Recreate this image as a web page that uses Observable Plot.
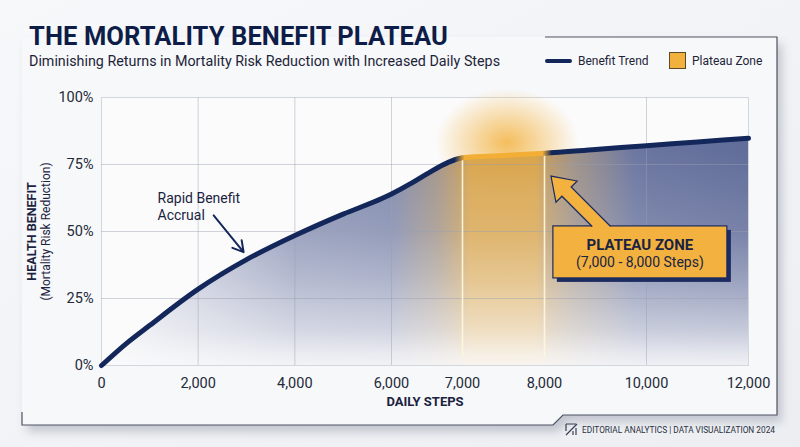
<!DOCTYPE html>
<html><head><meta charset="utf-8">
<script src="https://cdn.jsdelivr.net/npm/d3@7"></script>
<script src="https://cdn.jsdelivr.net/npm/@observablehq/plot@0.6"></script>
<style>
html,body{margin:0;padding:0;}
body{width:800px;height:447px;overflow:hidden;background:#f1f2f5;font-family:Roboto,"Noto Sans",sans-serif;}
#wrap{position:relative;width:800px;height:447px;}
#bg{position:absolute;left:0;top:0;}
#header{position:absolute;left:0;top:0;width:800px;height:80px;}
#title{position:absolute;left:29px;top:24px;font-size:25.5px;line-height:25px;font-weight:700;color:#0e1c48;white-space:nowrap;letter-spacing:0.1px;}
#subtitle{position:absolute;left:29px;top:54px;font-size:14.3px;line-height:14px;color:#1d2438;white-space:nowrap;}
.leg{position:absolute;font-size:12px;line-height:12px;color:#1d2438;white-space:nowrap;}
#chart{position:absolute;left:0;top:80px;}
#footer{position:absolute;left:0;top:0;pointer-events:none;}
</style>
</head><body>
<div id="wrap">
<svg id="bg" width="800" height="447">
  <defs>
    <linearGradient id="pageG" x1="0" y1="0" x2="1" y2="1">
      <stop offset="0" stop-color="#f7f8fa"/><stop offset="1" stop-color="#eceef2"/>
    </linearGradient>
    <filter id="sh" x="-10%" y="-10%" width="125%" height="130%"><feGaussianBlur stdDeviation="5"/></filter>
  </defs>
  <rect width="800" height="447" fill="url(#pageG)"/>
  <path d="M22,37H777V415H563L553,425H22Z" transform="translate(5,7)" fill="#8d93a2" opacity="0.45" filter="url(#sh)"/>
  <path d="M22,37H777V415H563L553,425H22Z" fill="#f7f8fa"/>
  <path d="M545,37H777V415H563L553,425H22V412" fill="none" stroke="#4c5262" stroke-width="1.2"/>
</svg>
<div id="header">
  <div id="title">THE MORTALITY BENEFIT PLATEAU</div>
  <div id="subtitle">Diminishing Returns in Mortality Risk Reduction with Increased Daily Steps</div>
  <div style="position:absolute;left:545px;top:59px;width:27px;height:4px;border-radius:2px;background:#13275a"></div>
  <div class="leg" style="left:578px;top:55px;">Benefit Trend</div>
  <div style="position:absolute;left:669px;top:52px;width:15px;height:15px;background:#f2b13c;border:1px solid #5b4a2a"></div>
  <div class="leg" style="left:692px;top:55px;">Plateau Zone</div>
</div>
<div id="chart"></div>
<svg id="footer" width="800" height="447">
  <g stroke="#3a4050" stroke-width="1.2" fill="none">
    <path d="M566,424H576M566,424V431"/>
    <path d="M566,435L577,424"/>
    <path d="M573,435V431M576,435V428"/>
  </g>
  <text id="footText" x="582" y="432.5" font-size="10" fill="#2a3040" font-family="'Liberation Sans Narrow', Roboto, sans-serif">EDITORIAL ANALYTICS | DATA VISUALIZATION 2024</text>
</svg>
</div>
<script>
// ---- data ----
const steps   = [0, 500, 1000, 2000, 3000, 4000, 5000, 5800, 6000, 6300, 6500, 6800, 7000, 7500, 8000, 9000, 10000, 11000, 12000];
const benefit = [0, 8, 15, 28.5, 39.5, 48.5, 56.5, 62.3, 64, 68.3, 71.5, 75.8, 77.5, 78.4, 79.2, 80.6, 82, 83.4, 84.8];
const xTicks = [0, 2000, 4000, 6000, 7000, 8000, 10000, 12000];
const yTicks = [0, 25, 50, 75, 100];
const gridXValues = [2000, 4000, 6000, 10000];
const gridYValues = [25, 50, 75];
const plateauBounds = [7000, 8000];
const xBreaks = [0, 6000, 7000, 8000, 12000];
const xBreakPixels = [101, 391, 462, 544, 748];
const rapidLabel = [{steps: 1160, benefit: 59.5, text: "Rapid Benefit\nAccrual"}];
const rapidArrow = [{x1: 2320, y1: 56, x2: 2940, y2: 42.3}];
const calloutBox = {steps: 9880, benefit: 42.2, title: "PLATEAU ZONE", sub: "(7,000 - 8,000 Steps)"};
const calloutTip = {steps: 8137, benefit: 70.5};

const data = steps.map((s, i) => ({steps: s, benefit: benefit[i]}));
const valueAt = s => data.find(d => d.steps === s).benefit;
const plateauRules = plateauBounds.map(s => ({steps: s, top: valueAt(s)}));

const NAVY = "#13275a", ORANGE = "#f2ae35", PLOTBG = "#fbfbfc";

function defsMark(index, {x, y}) {
  const g = d3.create("svg:g");
  const defs = g.append("defs");
  const x0 = x(0), x12 = x(12000), x6 = x(6000), x7 = x(7000), x8 = x(8000);
  const yT = y(100), yB = y(0);
  function lin(id, a, b, stops, vertical) {
    const lg = defs.append("linearGradient").attr("id", id).attr("gradientUnits", "userSpaceOnUse");
    if (vertical) lg.attr("x1", 0).attr("x2", 0).attr("y1", a).attr("y2", b);
    else lg.attr("x1", a).attr("x2", b).attr("y1", 0).attr("y2", 0);
    for (const [o, c, op] of stops) lg.append("stop").attr("offset", o).attr("stop-color", c).attr("stop-opacity", op);
  }
  const f = v => (v - x0) / (x12 - x0);
  lin("navyH", x0, x12, [[0, "#2c3c78", 0.05], [0.1, "#2c3c78", 0.25], [0.3, "#2c3c78", 0.55], [0.45, "#2c3c78", 0.6], [0.7, "#2c3c78", 0.6], [0.85, "#2c3c78", 0.72], [1, "#2c3c78", 0.76]]);
  lin("orangeH", x0, x12, [[f(x6), ORANGE, 0], [f(x7 - 25), ORANGE, 0.3], [f(x7 - 5), ORANGE, 0.52], [f(x7 + 8), ORANGE, 0.78], [f(x8 - 8), ORANGE, 0.78], [f(x8 + 5), ORANGE, 0.52], [f(x8 + 30), ORANGE, 0.3], [f(x8 + 90), ORANGE, 0]]);
  lin("lineH", x0, x12, [[f(x7 - 8), NAVY, 1], [f(x7 + 2), ORANGE, 1], [f(x8 - 2), ORANGE, 1], [f(x8 + 7), NAVY, 1]]);
  lin("glowH", x0, x12, [[f(x7 - 15), "#fff4d6", 0], [f(x7), "#fff4d6", 0.95], [f(x8), "#fff4d6", 0.95], [f(x8 + 15), "#fff4d6", 0]]);
  lin("fadeV", yT, yB, [[0, PLOTBG, 0], [0.2, PLOTBG, 0.02], [0.5, PLOTBG, 0.17], [0.68, PLOTBG, 0.38], [0.87, PLOTBG, 0.66], [0.96, PLOTBG, 0.86], [1, PLOTBG, 0.92]], true);
  const rg = defs.append("radialGradient").attr("id", "glowR");
  rg.append("stop").attr("offset", 0).attr("stop-color", ORANGE).attr("stop-opacity", 0.8);
  rg.append("stop").attr("offset", 0.5).attr("stop-color", ORANGE).attr("stop-opacity", 0.4);
  rg.append("stop").attr("offset", 1).attr("stop-color", ORANGE).attr("stop-opacity", 0);
  defs.append("filter").attr("id", "blur").attr("filterUnits", "userSpaceOnUse")
    .attr("x", 0).attr("y", 0).attr("width", 800).attr("height", 400)
    .append("feGaussianBlur").attr("stdDeviation", 3);
  return g.node();
}

function glowMark(index, {x, y}) {
  const g = d3.create("svg:g");
  g.append("ellipse")
    .attr("cx", (x(7000) + x(8000)) / 2 + 4).attr("cy", y(83))
    .attr("rx", 72).attr("ry", 54).attr("fill", "url(#glowR)");
  return g.node();
}

function calloutMark(index, {x, y}) {
  const g = d3.create("svg:g");
  const cx = x(calloutBox.steps), cy = y(calloutBox.benefit);
  const w = 174, h = 52, bx = cx - w / 2, by = cy - h / 2;
  g.append("rect").attr("x", bx + 4).attr("y", by + 4).attr("width", w).attr("height", h).attr("fill", "#1c2b60");
  g.append("rect").attr("x", bx).attr("y", by).attr("width", w).attr("height", h)
    .attr("fill", "#f3b23f").attr("stroke", "#1c2b60").attr("stroke-width", 1.2);
  const tx = x(calloutTip.steps), ty = y(calloutTip.benefit);
  const s = Math.SQRT1_2, dx = s, dy = s, nx = s, ny = -s;
  const hl = 22, hw = 15, sw = 6.5;
  const bcx = tx + hl * dx, bcy = ty + hl * dy;
  const w1 = [bcx + hw * nx, bcy + hw * ny], w2 = [bcx - hw * nx, bcy - hw * ny];
  const s1 = [bcx + sw * nx, bcy + sw * ny], s2 = [bcx - sw * nx, bcy - sw * ny];
  const endY = by + 0.6;
  const e1 = [s1[0] + (endY - s1[1]) / dy * dx, endY], e2 = [s2[0] + (endY - s2[1]) / dy * dx, endY];
  const e1b = [e1[0] + 1.5, endY + 1.5], e2b = [e2[0] + 1.5, endY + 1.5];
  g.append("path").attr("d", d3.line()([[tx, ty], w1, s1, e1, e1b, e2b, e2, s2, w2]) + "Z").attr("fill", "#f3b23f");
  g.append("path").attr("d", d3.line()([e1, s1, w1, [tx, ty], w2, s2, e2]))
    .attr("fill", "none").attr("stroke", "#1c2b60").attr("stroke-width", 1.2).attr("stroke-linejoin", "miter");
  g.append("text").attr("x", cx).attr("y", by + 24).attr("text-anchor", "middle")
    .attr("font-size", 15).attr("font-weight", 700).attr("fill", "#1a2342").text(calloutBox.title);
  g.append("text").attr("x", cx).attr("y", by + 41).attr("text-anchor", "middle")
    .attr("font-size", 14).attr("fill", "#1a2342").text(calloutBox.sub);
  return g.node();
}

const chart = Plot.plot({
  width: 800, height: 367,
  marginLeft: 101, marginRight: 52, marginTop: 17, marginBottom: 82,
  style: {background: "transparent", fontFamily: "Roboto, sans-serif", overflow: "visible"},
  x: {type: "linear", domain: xBreaks, range: xBreakPixels},
  y: {domain: [0, 100]},
  marks: [
    defsMark,
    Plot.frame({fill: PLOTBG, stroke: "#d3d6dd"}),
    glowMark,
    Plot.areaY(data, {x: "steps", y: "benefit", curve: "monotone-x", fill: "url(#navyH)"}),
    Plot.areaY(data, {x: "steps", y: "benefit", curve: "monotone-x", fill: "url(#orangeH)"}),
    Plot.areaY(data, {x: "steps", y: "benefit", curve: "monotone-x", fill: "url(#fadeV)"}),
    Plot.ruleY(gridYValues, {stroke: "#9aa0b0", strokeOpacity: 0.45}),
    Plot.ruleX(gridXValues, {stroke: "#9aa0b0", strokeOpacity: 0.45}),
    Plot.ruleX(plateauRules, {x: "steps", y1: 3, y2: "top", stroke: "#fff6dc", strokeWidth: 1.6, strokeOpacity: 0.95}),
    Plot.line(data, {x: "steps", y: "benefit", curve: "monotone-x", stroke: "url(#glowH)", strokeWidth: 12, ariaLabel: "glow-line"}),
    Plot.line(data, {x: "steps", y: "benefit", curve: "monotone-x", stroke: "url(#lineH)", strokeWidth: 5, strokeLinecap: "round"}),
    Plot.text(rapidLabel, {x: "steps", y: "benefit", text: "text", textAnchor: "start", fontSize: 14, lineHeight: 1.2, fill: "#1b2340"}),
    Plot.arrow(rapidArrow, {x1: "x1", y1: "y1", x2: "x2", y2: "y2", stroke: NAVY, strokeWidth: 2, headLength: 9}),
    calloutMark,
    Plot.axisX(xTicks, {tickSize: 0, tickPadding: 12, fontSize: 14.5, tickFormat: d3.format(","), fill: "#242a38", label: null}),
    Plot.axisY(yTicks, {tickSize: 0, tickPadding: 8, fontSize: 14.5, tickFormat: d => d + "%", fill: "#242a38", label: null}),
    Plot.text(["DAILY STEPS"], {frameAnchor: "bottom", dy: 40, fontSize: 13, fontWeight: "bold", fill: "#1b2340"}),
    Plot.text(["HEALTH BENEFIT"], {frameAnchor: "left", textAnchor: "middle", dx: -70, rotate: -90, fontSize: 12.5, fontWeight: "bold", fill: "#1b2340"}),
    Plot.text(["(Mortality Risk Reduction)"], {frameAnchor: "left", textAnchor: "middle", dx: -55, rotate: -90, fontSize: 12, fill: "#1b2340"})
  ]
});
const glow = chart.querySelector('g[aria-label="glow-line"]');
if (glow) glow.setAttribute("filter", "url(#blur)");
document.getElementById("chart").appendChild(chart);
// fit footer text to its slot by font size
const ft = document.getElementById("footText");
const len = ft.getComputedTextLength();
if (len > 0) ft.setAttribute("font-size", (10 * 193 / len).toFixed(2));
</script>
</body></html>
